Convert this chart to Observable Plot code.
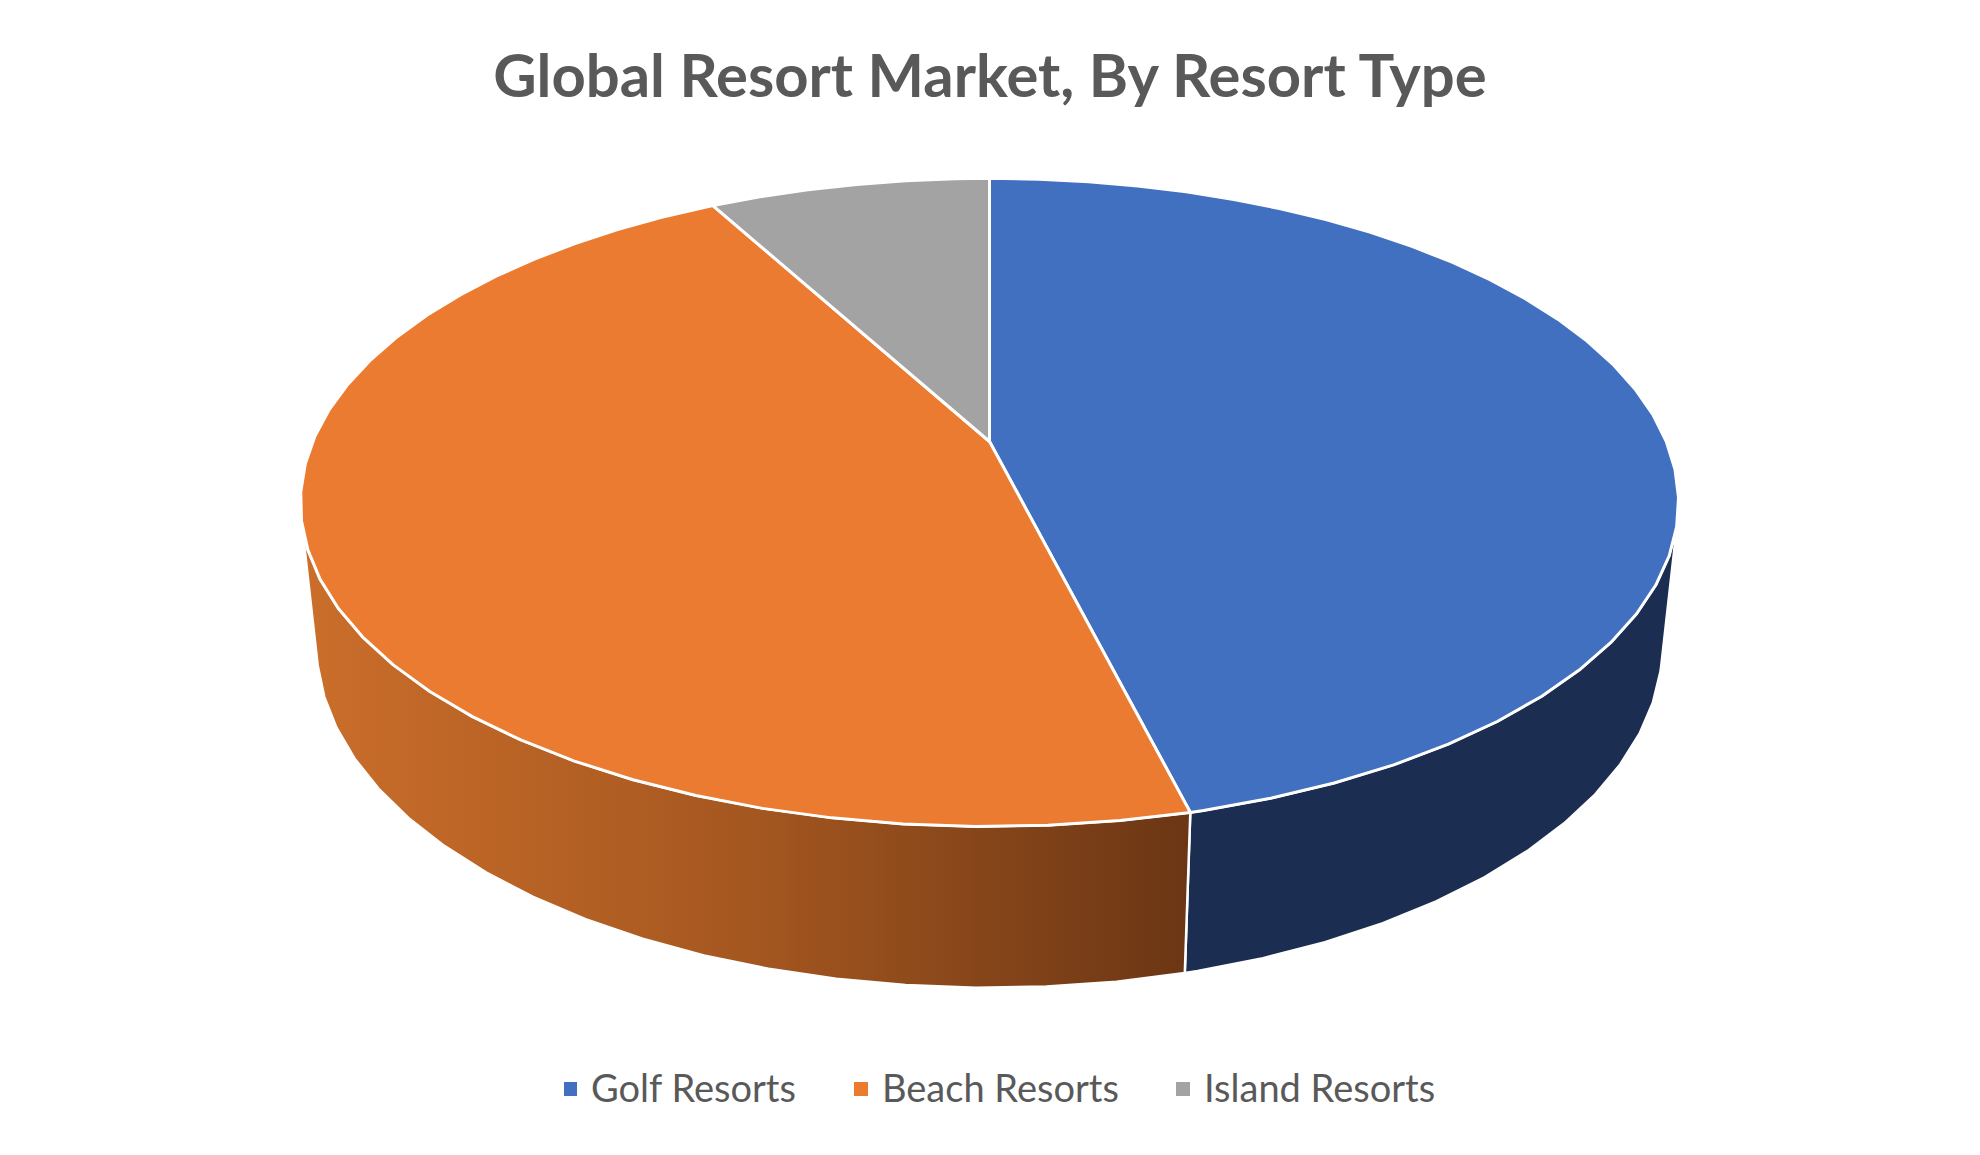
<!DOCTYPE html>
<html>
<head>
<meta charset="utf-8">
<script src="https://cdn.jsdelivr.net/npm/d3@7"></script>
<script src="https://cdn.jsdelivr.net/npm/@observablehq/plot@0.6"></script>
<style>
html,body{margin:0;padding:0;background:#fff;width:1980px;height:1155px;overflow:hidden}
#title{height:130px;box-sizing:border-box;padding-top:39px;text-align:center;font:700 59.8px/70px Lato,sans-serif;color:#595959;white-space:nowrap}
#chart{height:880px}
#chart svg{display:block}
#legend{position:relative;height:145px;font:400 38px/40px Lato,sans-serif;color:#595959}
#legend .sw{position:absolute;width:13.5px;height:14px;top:72px}
#legend .lb{position:absolute;top:57px;white-space:nowrap}
</style>
</head>
<body>
<div id="title">Global Resort Market, By Resort Type</div>
<div id="chart"></div>
<div id="legend"></div>
<script>
const types = ["Golf Resorts", "Beach Resorts", "Island Resorts"];
const shares = [46.1, 46, 7.9];
const topColors = ["#4270C0", "#EA7B30", "#A3A3A3"];
const legendSwatchX = [563.5, 854, 1176];
const legendLabelX = [591, 882, 1204];

// perspective of the disc: unit circle (u, v) at depth h
const A = 676.8, B = 312.6, C = 143.6, K = 0.188, M = 0.0231;
const project = (phi, r, h) => {
  const u = r * Math.sin(phi), v = -r * Math.cos(phi), w = 1 - K * v + M * h;
  return {x: A * u / w, y: (B * v + C * h) / w};
};
const STEP = 2 * Math.PI / 72;
// rim facets advance from the start of each slice
const arc = (origin, a0, a1) => {
  const out = [a0];
  for (let a = origin + STEP; a < a1 - 1e-6; a += STEP) if (a > a0 + 1e-6) out.push(a);
  out.push(a1);
  return out;
};
const pie = d3.pie().sort(null).value((d, i) => shares[i])(types);
const topPoints = pie.flatMap(s => {
  const ring = arc(s.startAngle, s.startAngle, s.endAngle).map(a => project(a, 1, 0));
  const c = project(0, 0, 0);
  return [c, ...ring, c].map(p => ({...p, type: s.data}));
});
// front wall: only the part of the rim facing the viewer
const VIS0 = Math.acos(-0.24), VIS1 = 2 * Math.PI - VIS0;
const wall = s => {
  const a0 = Math.max(s.startAngle, VIS0), a1 = Math.min(s.endAngle, VIS1);
  if (a1 <= a0) return [];
  const ang = arc(s.startAngle, a0, a1);
  const up = ang.map(a => project(a, 1, 0));
  const dn = ang.slice().reverse().map(a => project(a, 1, 1));
  return [...up, ...dn, up[0]];
};
const gradient = () => {
  const defs = d3.create("svg:defs");
  const g = defs.append("linearGradient").attr("id", "beachSide").attr("x1", 0).attr("x2", 1).attr("y1", 0).attr("y2", 0);
  g.append("stop").attr("offset", 0).attr("stop-color", "#CB6E2B");
  g.append("stop").attr("offset", 0.5).attr("stop-color", "#A55720");
  g.append("stop").attr("offset", 1).attr("stop-color", "#6B3614");
  return defs.node();
};
const chart = Plot.plot({
  width: 1980, height: 880,
  marginTop: 0, marginRight: 0, marginBottom: 0, marginLeft: 0,
  x: {domain: [-989, 991], range: [0, 1980], axis: null},
  y: {domain: [-311, 569], range: [0, 880], axis: null},
  color: {type: "ordinal", domain: types, range: topColors},
  marks: [
    gradient,
    Plot.line(wall(pie[0]), {x: "x", y: "y", fill: "#1B2D51", stroke: "white", strokeWidth: 2.5, strokeLinejoin: "round"}),
    Plot.line(wall(pie[1]), {x: "x", y: "y", fill: "url(#beachSide)", stroke: "white", strokeWidth: 2.5, strokeLinejoin: "round"}),
    Plot.line(topPoints, {x: "x", y: "y", z: "type", fill: "type", stroke: "white", strokeWidth: 3, strokeLinejoin: "round"})
  ]
});
document.getElementById("chart").append(chart);
const legend = document.getElementById("legend");
types.forEach((t, i) => {
  const sw = document.createElement("div");
  sw.className = "sw";
  sw.style.left = legendSwatchX[i] + "px";
  sw.style.background = topColors[i];
  const lb = document.createElement("div");
  lb.className = "lb";
  lb.style.left = legendLabelX[i] + "px";
  lb.textContent = t;
  legend.append(sw, lb);
});
</script>
</body>
</html>
